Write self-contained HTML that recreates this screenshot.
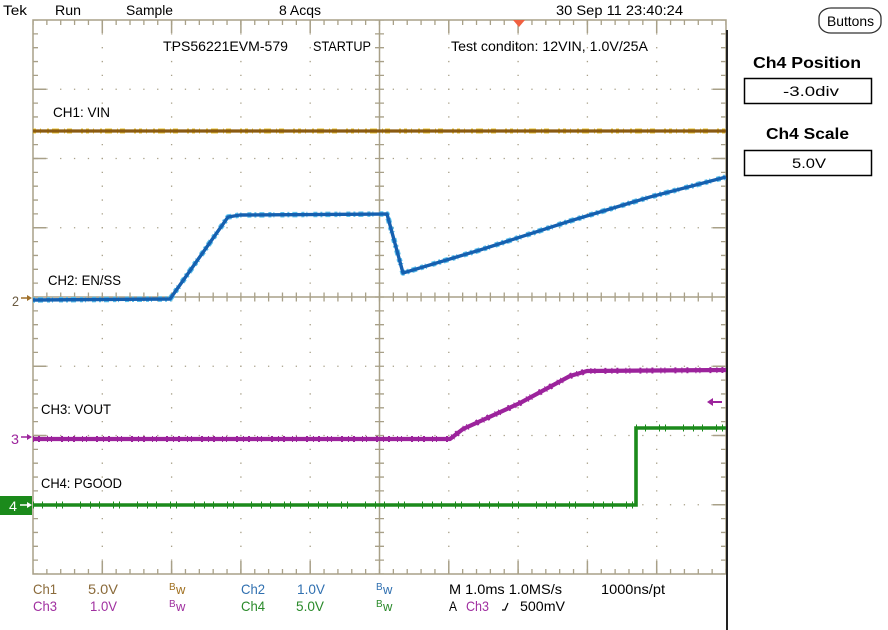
<!DOCTYPE html>
<html><head><meta charset="utf-8">
<style>
html,body{margin:0;padding:0;background:#fff;}
svg{display:block;}
text{font-family:"Liberation Sans",sans-serif;font-size:14px;}
</style></head>
<body>
<svg width="888" height="630" viewBox="0 0 888 630" xmlns="http://www.w3.org/2000/svg">
<rect width="888" height="630" fill="#fff"/>

<!-- top bar -->
<g fill="#000">
<text x="3" y="15" textLength="24" lengthAdjust="spacingAndGlyphs">Tek</text>
<text x="55" y="15" textLength="26" lengthAdjust="spacingAndGlyphs">Run</text>
<text x="126" y="15" textLength="47" lengthAdjust="spacingAndGlyphs">Sample</text>
<text x="279" y="15" textLength="42" lengthAdjust="spacingAndGlyphs">8 Acqs</text>
<text x="556" y="15" textLength="127" lengthAdjust="spacingAndGlyphs">30 Sep 11 23:40:24</text>
</g>

<!-- graticule -->
<g stroke="#a8a088" fill="none">
<rect x="33" y="20" width="693" height="554" stroke-width="1.5"/>
<g stroke-width="1.3" stroke-dasharray="1.3 12.55" stroke-dashoffset="0.65">
<line x1="102.3" y1="20" x2="102.3" y2="574"/>
<line x1="171.6" y1="20" x2="171.6" y2="574"/>
<line x1="240.9" y1="20" x2="240.9" y2="574"/>
<line x1="310.2" y1="20" x2="310.2" y2="574"/>
<line x1="448.8" y1="20" x2="448.8" y2="574"/>
<line x1="518.1" y1="20" x2="518.1" y2="574"/>
<line x1="587.4" y1="20" x2="587.4" y2="574"/>
<line x1="656.7" y1="20" x2="656.7" y2="574"/>
</g>
<g stroke-width="1.3" stroke-dasharray="1.3 12.56" stroke-dashoffset="0.65">
<line x1="33" y1="89.25" x2="726" y2="89.25"/>
<line x1="33" y1="158.5" x2="726" y2="158.5"/>
<line x1="33" y1="227.75" x2="726" y2="227.75"/>
<line x1="33" y1="366.25" x2="726" y2="366.25"/>
<line x1="33" y1="435.5" x2="726" y2="435.5"/>
<line x1="33" y1="504.75" x2="726" y2="504.75"/>
</g>
<g stroke-width="1.3" stroke-dasharray="1.3 12.55" stroke-dashoffset="0.65">
<line x1="35.5" y1="20" x2="35.5" y2="574" stroke-width="5"/>
<line x1="723.5" y1="20" x2="723.5" y2="574" stroke-width="5"/>
<line x1="379.5" y1="20" x2="379.5" y2="574" stroke-width="9"/>
</g>
<g stroke-dasharray="1.3 12.56" stroke-dashoffset="0.65">
<line x1="33" y1="22.5" x2="726" y2="22.5" stroke-width="5"/>
<line x1="33" y1="571.5" x2="726" y2="571.5" stroke-width="5"/>
<line x1="33" y1="297" x2="726" y2="297" stroke-width="9"/>
</g>
<line x1="379.5" y1="20" x2="379.5" y2="574" stroke-width="1.5"/>
<line x1="33" y1="297" x2="726" y2="297" stroke-width="1.5"/>
<g stroke-width="1.5">
<path d="M102.3,20v13M171.6,20v13M240.9,20v13M310.2,20v13M448.8,20v13M518.1,20v13M587.4,20v13M656.7,20v13"/>
<path d="M102.3,561v13M171.6,561v13M240.9,561v13M310.2,561v13M448.8,561v13M518.1,561v13M587.4,561v13M656.7,561v13"/>
<path d="M33,89.25h13M33,158.5h13M33,227.75h13M33,366.25h13M33,435.5h13M33,504.75h13"/>
<path d="M713,89.25h13M713,158.5h13M713,227.75h13M713,366.25h13M713,435.5h13M713,504.75h13"/>
</g>
</g>

<line x1="727" y1="30" x2="727" y2="630" stroke="#222" stroke-width="2"/>

<polygon points="513,20 525,20 519,27" fill="#f06040"/>

<g fill="#000">
<text x="163" y="51" textLength="125" lengthAdjust="spacingAndGlyphs">TPS56221EVM-579</text>
<text x="313" y="51" textLength="58" lengthAdjust="spacingAndGlyphs">STARTUP</text>
<text x="451" y="51" textLength="197" lengthAdjust="spacingAndGlyphs">Test conditon: 12VIN, 1.0V/25A</text>
<text x="53" y="117" textLength="57" lengthAdjust="spacingAndGlyphs">CH1: VIN</text>
<text x="48" y="285" textLength="73" lengthAdjust="spacingAndGlyphs">CH2: EN/SS</text>
<text x="41" y="414" textLength="70" lengthAdjust="spacingAndGlyphs">CH3: VOUT</text>
<text x="41" y="488" textLength="81" lengthAdjust="spacingAndGlyphs">CH4: PGOOD</text>
</g>

<!-- CH1 trace -->
<line x1="33" y1="131" x2="726" y2="131" stroke="#e8c430" stroke-width="5" stroke-dasharray="3 4 1 6 2 3 7 5 1 2 5 9 2 3"/>
<line x1="33" y1="131" x2="726" y2="131" stroke="#8a5a12" stroke-width="3.2"/>

<!-- CH2 trace -->
<path d="M33,300 L170,299 L228,217 L240,215 L387,214 L403,273 L480,250 L570,221 L650,197 L726,177" fill="none" stroke="#5cc0ec" stroke-width="5.5" stroke-dasharray="2 3 5 4 3 2 1 6 4 3" stroke-linejoin="round"/>
<path d="M33,300 L170,299 L228,217 L240,215 L387,214 L403,273 L480,250 L570,221 L650,197 L726,177" fill="none" stroke="#1560b0" stroke-width="3.4" stroke-linejoin="round"/>

<!-- CH3 trace -->
<path d="M33,439 L450,439 L463,429 L520,403 L570,376 L587,371 L726,370" fill="none" stroke="#9c239c" stroke-width="6" stroke-dasharray="1 4 2 7 1 3 1 9 2 5" stroke-linejoin="round"/>
<path d="M33,439 L450,439 L463,429 L520,403 L570,376 L587,371 L726,370" fill="none" stroke="#9c239c" stroke-width="4.2" stroke-linejoin="round"/>

<!-- CH4 trace -->
<path d="M33,505 L636,505 M636,428 L726,428" fill="none" stroke="#1b8a1b" stroke-width="7" stroke-dasharray="1 8 1 13 1 5 1 17 1 9"/>
<path d="M33,505 L636,505 L636,428 L726,428" fill="none" stroke="#1b8a1b" stroke-width="3.6"/>

<path d="M710,402 H722" stroke="#9c239c" stroke-width="2"/>
<polygon points="707,402 713,398 713,406" fill="#9c239c"/>

<text x="12" y="306" fill="#6a5a40" textLength="7" lengthAdjust="spacingAndGlyphs">2</text>
<path d="M21,298 H30" stroke="#a0702a" stroke-width="1.5"/>
<polygon points="32,298 27,295 27,301" fill="#a0702a"/>
<text x="11" y="444" fill="#9c239c" textLength="8" lengthAdjust="spacingAndGlyphs">3</text>
<path d="M21,437 H30" stroke="#9c239c" stroke-width="1.5"/>
<polygon points="32,437 27,434 27,440" fill="#9c239c"/>
<rect x="0" y="496" width="32" height="19" fill="#1b8a1b"/>
<text x="9" y="511" fill="#fff" textLength="8" lengthAdjust="spacingAndGlyphs">4</text>
<path d="M20,505 H30" stroke="#fff" stroke-width="1.5"/>
<polygon points="32,505 27,502 27,508" fill="#fff"/>

<rect x="819" y="8" width="62" height="25" rx="12" ry="10" fill="#fff" stroke="#333" stroke-width="1.3"/>
<text x="827" y="26" textLength="47" lengthAdjust="spacingAndGlyphs" fill="#000">Buttons</text>
<text x="753" y="68" font-weight="bold" style="font-size:16px" textLength="108" lengthAdjust="spacingAndGlyphs" fill="#000">Ch4 Position</text>
<rect x="744.5" y="78.5" width="127" height="25" fill="#fff" stroke="#000" stroke-width="1.5"/>
<text x="783" y="96" textLength="56" lengthAdjust="spacingAndGlyphs" fill="#000">-3.0div</text>
<text x="766" y="139" font-weight="bold" style="font-size:16px" textLength="83" lengthAdjust="spacingAndGlyphs" fill="#000">Ch4 Scale</text>
<rect x="744.5" y="150.5" width="127" height="25" fill="#fff" stroke="#000" stroke-width="1.5"/>
<text x="792" y="168" textLength="34" lengthAdjust="spacingAndGlyphs" fill="#000">5.0V</text>

<g>
<text x="33" y="594" fill="#8a6a3a" textLength="24" lengthAdjust="spacingAndGlyphs">Ch1</text>
<text x="88" y="594" fill="#8a6a3a" textLength="30" lengthAdjust="spacingAndGlyphs">5.0V</text>
<text x="169" y="590" fill="#a07020" style="font-size:10px">B</text><text x="176" y="594" fill="#a07020" style="font-size:13px">w</text>
<text x="241" y="594" fill="#3070b0" textLength="24" lengthAdjust="spacingAndGlyphs">Ch2</text>
<text x="297" y="594" fill="#3070b0" textLength="28" lengthAdjust="spacingAndGlyphs">1.0V</text>
<text x="376" y="590" fill="#3070b0" style="font-size:10px">B</text><text x="383" y="594" fill="#3070b0" style="font-size:13px">w</text>

<text x="33" y="611" fill="#a030a0" textLength="24" lengthAdjust="spacingAndGlyphs">Ch3</text>
<text x="90" y="611" fill="#a030a0" textLength="27" lengthAdjust="spacingAndGlyphs">1.0V</text>
<text x="169" y="607" fill="#a030a0" style="font-size:10px">B</text><text x="176" y="611" fill="#a030a0" style="font-size:13px">w</text>
<text x="241" y="611" fill="#2a8a2a" textLength="24" lengthAdjust="spacingAndGlyphs">Ch4</text>
<text x="296" y="611" fill="#2a8a2a" textLength="28" lengthAdjust="spacingAndGlyphs">5.0V</text>
<text x="376" y="607" fill="#2a8a2a" style="font-size:10px">B</text><text x="383" y="611" fill="#2a8a2a" style="font-size:13px">w</text>

<text x="449" y="594" fill="#000" textLength="113" lengthAdjust="spacingAndGlyphs">M 1.0ms 1.0MS/s</text>
<text x="601" y="594" fill="#000" textLength="64" lengthAdjust="spacingAndGlyphs">1000ns/pt</text>
<text x="449" y="611" fill="#000" textLength="8" lengthAdjust="spacingAndGlyphs">A</text>
<text x="466" y="611" fill="#a030a0" textLength="23" lengthAdjust="spacingAndGlyphs">Ch3</text>
<path d="M502,610 H505 L508,603" stroke="#000" stroke-width="1.2" fill="none"/>
<text x="520" y="611" fill="#000" textLength="45" lengthAdjust="spacingAndGlyphs">500mV</text>
</g>
</svg>
</body></html>
